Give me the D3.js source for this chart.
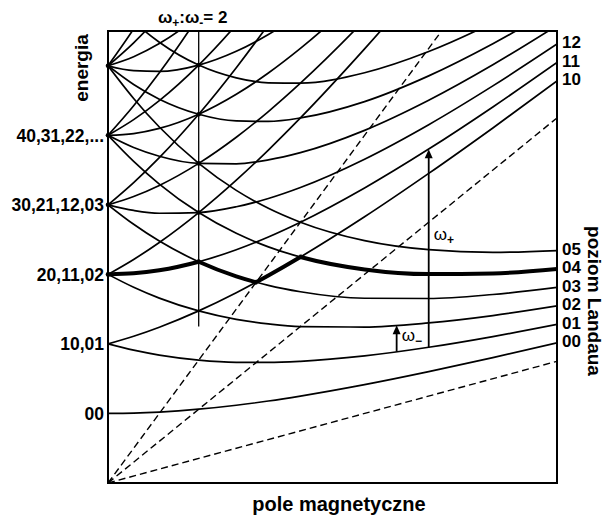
<!DOCTYPE html>
<html>
<head>
<meta charset="utf-8">
<script src="https://cdn.jsdelivr.net/npm/d3@7"></script>
<style>
	body { margin: 0; background: #fff; }
	svg { display: block; font-family: 'Liberation Sans', Arial, sans-serif; font-weight: bold; }
</style>
</head>
<body>
<script>
'use strict';

// field grid (omega_c in units of omega_0) at which the levels were read
const fieldGrid = [0, 0.2, 0.4, 0.707, 1.0, 1.25, 1.5, 2.0, 2.5, 3.0, 3.5];

// level names n+ n-  and their energies (units of omega_0) along fieldGrid
const levelNames = ['00', '10', '01', '20', '11', '02', '30', '21', '12', '03',
	'40', '31', '22', '13', '04', '50', '41', '32', '23', '14', '05', '15'];
const levelEnergies = [
	[1, 1.005, 1.020, 1.061, 1.118, 1.179, 1.25, 1.414, 1.601, 1.803, 2.016],
	[2, 2.110, 2.240, 2.475, 2.736, 2.984, 3.25, 3.828, 4.452, 5.106, 5.781],
	[2, 1.910, 1.840, 1.768, 1.736, 1.734, 1.75, 1.828, 1.952, 2.106, 2.281],
	[3, 3.215, 3.459, 3.889, 4.354, 4.788, 5.25, 6.243, 7.302, 8.408, 9.547],
	[3, 3.015, 3.059, 3.182, 3.354, 3.538, 3.75, 4.243, 4.802, 5.408, 6.047],
	[3, 2.815, 2.659, 2.475, 2.354, 2.288, 2.25, 2.243, 2.302, 2.408, 2.547],
	[4, 4.320, 4.679, 5.303, 5.972, 6.592, 7.25, 8.657, 10.153, 11.711, 13.312],
	[4, 4.120, 4.279, 4.596, 4.972, 5.342, 5.75, 6.657, 7.653, 8.711, 9.812],
	[4, 3.920, 3.879, 3.889, 3.972, 4.092, 4.25, 4.657, 5.153, 5.711, 6.312],
	[4, 3.720, 3.479, 3.182, 2.972, 2.842, 2.75, 2.657, 2.653, 2.711, 2.812],
	[5, 5.425, 5.899, 6.717, 7.590, 8.396, 9.25, 11.071, 13.004, 15.014, 17.078],
	[5, 5.225, 5.499, 6.010, 6.590, 7.146, 7.75, 9.071, 10.504, 12.014, 13.578],
	[5, 5.025, 5.099, 5.303, 5.590, 5.896, 6.25, 7.071, 8.004, 9.014, 10.078],
	[5, 4.825, 4.699, 4.596, 4.590, 4.646, 4.75, 5.071, 5.504, 6.014, 6.578],
	[5, 4.625, 4.299, 3.889, 3.590, 3.396, 3.25, 3.071, 3.004, 3.014, 3.078],
	[6, 6.530, 7.119, 8.132, 9.208, 10.200, 11.25, 13.485, 15.855, 18.317, 20.843],
	[6, 6.330, 6.719, 7.425, 8.208, 8.950, 9.75, 11.485, 13.355, 15.317, 17.343],
	[6, 6.130, 6.319, 6.718, 7.208, 7.700, 8.25, 9.485, 10.855, 12.317, 13.843],
	[6, 5.930, 5.919, 6.010, 6.208, 6.450, 6.75, 7.485, 8.355, 9.317, 10.343],
	[6, 5.730, 5.519, 5.303, 5.208, 5.200, 5.25, 5.485, 5.855, 6.317, 6.843],
	[6, 5.530, 5.119, 4.596, 4.208, 3.950, 3.75, 3.485, 3.355, 3.317, 3.343],
	[7, 6.635, 6.339, 6.010, 5.826, 5.755, 5.75, 5.900, 6.205, 6.619, 7.109]
];

// thick path: [level, from field, to field]
const boldSegments = [['11', 0, 0.707], ['03', 0.707, 1.155], ['10', 1.155, 1.5], ['04', 1.5, 3.5]];

// dashed Landau lines, energy reached at the right edge (field 3.5)
const dashedEnds = [1.75, 5.25, 8.75];

// vertical marker omega+ : omega- = 2
const ratioField = 0.707;
const ratioBottom = 2.25;

// degeneracy points (where several levels meet)
const knotFields = [0, 0, 0, 0, 0.707, 0.707, 0.707, 0.707, 0.707];
const knotEnergies = [3, 4, 5, 6, 3.182, 3.889, 4.596, 5.303, 6.010];

// left tick labels
const leftLabels = ['00', '10,01', '20,11,02', '30,21,12,03', '40,31,22,...'];
const leftEnergies = [1, 2, 3, 4, 5];

// right tick labels (Landau levels)
const rightLabels = ['00', '01', '02', '03', '04', '05', '10', '11', '12'];

// arrows
const arrowFields = [2.5, 2.25];
const arrowFrom = [1.95, 1.89];
const arrowTo = [4.80, 2.27];
const arrowSigns = ['+', '−'];
const arrowTextAt = [3.57, 2.12];

const DIM = { width: 611, height: 515, left: 108, right: 557, top: 31, bottom: 483 };

let x = d3.scaleLinear().domain([0, 3.5]).range([DIM.left, DIM.right]);
let y = d3.scaleLinear().domain([0, 6.5]).range([DIM.bottom, DIM.top]);

let svg = d3.select('body').append('svg')
	.attr('width', DIM.width)
	.attr('height', DIM.height);

let defs = svg.append('defs');
defs.append('clipPath').attr('id', 'plot-clip')
	.append('rect')
	.attr('x', DIM.left).attr('y', DIM.top)
	.attr('width', DIM.right - DIM.left).attr('height', DIM.bottom - DIM.top);

let line = d3.line()
	.x((d, i) => x(fieldGrid[i]))
	.y((d) => y(d))
	.curve(d3.curveMonotoneX);

let plot = svg.append('g').attr('clip-path', 'url(#plot-clip)');

// dashed lines from the origin
plot.selectAll('.dash')
	.data(dashedEnds)
	.enter()
	.append('line')
	.attr('class', 'dash')
	.attr('x1', x(0)).attr('y1', y(0))
	.attr('x2', x(3.5)).attr('y2', (d) => y(d))
	.attr('stroke', '#000')
	.attr('stroke-width', 1.4)
	.attr('stroke-dasharray', '7,4');

// energy levels
plot.selectAll('.level')
	.data(levelEnergies)
	.enter()
	.append('path')
	.attr('class', 'level')
	.attr('d', line)
	.attr('fill', 'none')
	.attr('stroke', '#000')
	.attr('stroke-width', 1.7);

// thick path, one clipped copy per segment
boldSegments.forEach((s, i) => {
	defs.append('clipPath').attr('id', 'bold-' + i)
		.append('rect')
		.attr('x', x(s[1]) - 1).attr('y', DIM.top)
		.attr('width', x(s[2]) - x(s[1]) + 2).attr('height', DIM.bottom - DIM.top);
	plot.append('g').attr('clip-path', 'url(#bold-' + i + ')')
		.append('path')
		.attr('d', line(levelEnergies[levelNames.indexOf(s[0])]))
		.attr('fill', 'none')
		.attr('stroke', '#000')
		.attr('stroke-width', 4)
		.attr('stroke-linecap', 'round');
});

// vertical marker
svg.append('line')
	.attr('x1', x(ratioField)).attr('x2', x(ratioField))
	.attr('y1', DIM.top).attr('y2', y(ratioBottom))
	.attr('stroke', '#000').attr('stroke-width', 1.3);

// small blobs where levels meet
svg.selectAll('.knot')
	.data(knotEnergies)
	.enter()
	.append('circle')
	.attr('class', 'knot')
	.attr('cx', (d, i) => x(knotFields[i]))
	.attr('cy', (d) => y(d))
	.attr('r', 2.3)
	.attr('fill', '#000');

// arrows
arrowFields.forEach((f, i) => {
	let g = svg.append('g');
	g.append('line')
		.attr('x1', x(f)).attr('x2', x(f))
		.attr('y1', y(arrowFrom[i])).attr('y2', y(arrowTo[i]) + 7)
		.attr('stroke', '#000').attr('stroke-width', 1.8);
	let tx = x(f), ty = y(arrowTo[i]);
	g.append('path')
		.attr('d', 'M' + tx + ',' + ty + 'L' + (tx - 4) + ',' + (ty + 9) + 'L' + (tx + 4) + ',' + (ty + 9) + 'Z')
		.attr('fill', '#000');
	let t = g.append('text')
		.attr('x', tx + 5)
		.attr('y', y(arrowTextAt[i]) + 5)
		.style('font-size', '17px')
		.style('font-weight', 'normal');
	t.append('tspan').text('ω');
	t.append('tspan').attr('dy', 4).style('font-size', '12px').style('font-weight', 'bold').text(arrowSigns[i]);
});

// frame
svg.append('rect')
	.attr('x', DIM.left).attr('y', DIM.top)
	.attr('width', DIM.right - DIM.left).attr('height', DIM.bottom - DIM.top)
	.attr('fill', 'none').attr('stroke', '#000').attr('stroke-width', 2);

// left labels
svg.selectAll('.left-label')
	.data(leftLabels)
	.enter()
	.append('text')
	.attr('class', 'left-label')
	.attr('x', DIM.left - 4)
	.attr('y', (d, i) => y(leftEnergies[i]))
	.attr('dy', '0.36em')
	.attr('text-anchor', 'end')
	.style('font-size', '17.5px')
	.text((d) => d);

// right labels, at the end of each level
svg.selectAll('.right-label')
	.data(rightLabels)
	.enter()
	.append('text')
	.attr('class', 'right-label')
	.attr('x', DIM.right + 5)
	.attr('y', (d) => y(levelEnergies[levelNames.indexOf(d)][fieldGrid.length - 1]) - 2)
	.attr('dy', '0.36em')
	.style('font-size', '17px')
	.text((d) => d);

// top label
let ratioLabel = svg.append('text')
	.attr('x', x(ratioField) - 6)
	.attr('y', 23)
	.attr('text-anchor', 'middle')
	.style('font-size', '17px');
ratioLabel.append('tspan').text('ω');
ratioLabel.append('tspan').attr('dy', 4).style('font-size', '12px').text('+');
ratioLabel.append('tspan').attr('dy', -4).text(':ω');
ratioLabel.append('tspan').attr('dy', 4).style('font-size', '12px').text('-');
ratioLabel.append('tspan').attr('dy', -4).text('= 2');

// axis titles
svg.append('text')
	.attr('transform', 'translate(88, 68) rotate(-90)')
	.attr('text-anchor', 'middle')
	.style('font-size', '19px')
	.text('energia');

svg.append('text')
	.attr('transform', 'translate(588, 301) rotate(90)')
	.attr('text-anchor', 'middle')
	.style('font-size', '19px')
	.text('poziom Landaua');

svg.append('text')
	.attr('x', 339)
	.attr('y', 511)
	.attr('text-anchor', 'middle')
	.style('font-size', '20px')
	.text('pole magnetyczne');
</script>
</body>
</html>
